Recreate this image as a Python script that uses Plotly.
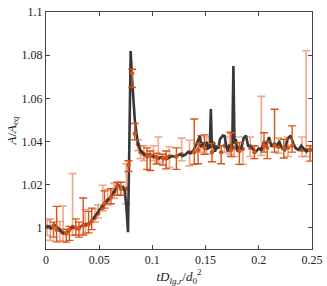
import plotly.graph_objects as go

# ---- black curve (simulation) ----
line_t = [0, 0.0025, 0.005, 0.0075, 0.01, 0.0125, 0.015, 0.0175, 0.02, 0.0225,
          0.025, 0.0275, 0.03, 0.0325, 0.035, 0.0375, 0.04, 0.0425, 0.045, 0.0475,
          0.05, 0.0525, 0.055, 0.0575, 0.06, 0.0625, 0.065, 0.0675, 0.07, 0.0725,
          0.074, 0.0755, 0.0771, 0.0784, 0.0796, 0.0808, 0.082, 0.0835, 0.085, 0.0865,
          0.0885, 0.091, 0.0935, 0.096, 0.0985, 0.101, 0.1035, 0.106, 0.1085, 0.111,
          0.1135, 0.116, 0.1185, 0.121, 0.1235, 0.126, 0.1285, 0.131, 0.1335, 0.136,
          0.1385, 0.141, 0.1435, 0.1446, 0.146, 0.148, 0.1495, 0.151, 0.1525, 0.154,
          0.155, 0.156, 0.1575, 0.159, 0.1605, 0.162, 0.1635, 0.1663, 0.168, 0.1695,
          0.171, 0.1725, 0.174, 0.1752, 0.1762, 0.1772, 0.1785, 0.18, 0.1815, 0.183,
          0.1845, 0.186, 0.188, 0.19, 0.1927, 0.195, 0.1975, 0.2, 0.2025, 0.205,
          0.2075, 0.2097, 0.212, 0.2145, 0.217, 0.2195, 0.222, 0.2245, 0.227, 0.23,
          0.2325, 0.235, 0.2375, 0.24, 0.2425, 0.245, 0.2483, 0.25]
line_a = [1.0000, 1.0006, 0.9996, 1.0014, 1.0004, 0.9988, 0.9977, 0.9973, 0.9976, 0.9990,
          1.0005, 0.9998, 0.9993, 1.0004, 1.0009, 1.0013, 1.0019, 1.0027, 1.0044, 1.0066,
          1.0083, 1.0097, 1.0108, 1.0126, 1.0137, 1.0152, 1.0172, 1.0203, 1.0180, 1.0188,
          1.0168, 1.0100, 0.9978, 1.0400, 1.0820, 1.0700, 1.0600, 1.0500, 1.0440, 1.0390,
          1.0360, 1.0345, 1.0335, 1.0340, 1.0330, 1.0333, 1.0325, 1.0322, 1.0328, 1.0320,
          1.0318, 1.0326, 1.0332, 1.0328, 1.0336, 1.0340, 1.0332, 1.0338, 1.0350, 1.0345,
          1.0356, 1.0380, 1.0410, 1.0427, 1.0375, 1.0395, 1.0360, 1.0398, 1.0368, 1.0372,
          1.0550, 1.0370, 1.0398, 1.0352, 1.0380, 1.0365, 1.0410, 1.0427, 1.0425, 1.0380,
          1.0353, 1.0385, 1.0360, 1.0400, 1.0750, 1.0390, 1.0410, 1.0353, 1.0370, 1.0362,
          1.0395, 1.0415, 1.0427, 1.0380, 1.0380, 1.0360, 1.0353, 1.0367, 1.0360, 1.0397,
          1.0385, 1.0420, 1.0375, 1.0390, 1.0383, 1.0397, 1.0367, 1.0360, 1.0410, 1.0427,
          1.0390, 1.0367, 1.0360, 1.0380, 1.0365, 1.0353, 1.0367, 1.0360]
assert len(line_t) == len(line_a)

# ---- experiment, dark error bars ----
dark_t = [0.007, 0.010, 0.019, 0.022, 0.028, 0.031, 0.035, 0.040, 0.043, 0.055,
          0.061, 0.067, 0.0705, 0.0775, 0.081, 0.0835, 0.095, 0.098, 0.104, 0.110,
          0.113, 0.1226, 0.1394, 0.143, 0.149, 0.156, 0.1647, 0.174, 0.1818, 0.196,
          0.205, 0.208, 0.2149, 0.2236, 0.2314, 0.2483]
dark_a = [1.0005, 0.9990, 0.9972, 0.9990, 1.0000, 0.9995, 1.0010, 1.0015, 1.0030, 1.0110,
          1.0140, 1.0190, 1.0180, 1.0290, 1.0717, 1.0437, 1.0330, 1.0335, 1.0325, 1.0320,
          1.0325, 1.0330, 1.0350, 1.0360, 1.0370, 1.0350, 1.0350, 1.0360, 1.0355, 1.0350,
          1.0380, 1.0370, 1.0380, 1.0370, 1.0380, 1.0360]
dark_up = [0.002, 0.0108, 0.002, 0.0015, 0.004, 0.003, 0.0127, 0.006, 0.006, 0.006,
           0.004, 0.002, 0.003, 0.002, 0.0018, 0.0046, 0.004, 0.002, 0.002, 0.002,
           0.003, 0.004, 0.0154, 0.003, 0.006, 0.004, 0.003, 0.008, 0.004, 0.003,
           0.006, 0.003, 0.0169, 0.004, 0.0092, 0.002]
dark_dn = [0.005, 0.0057, 0.004, 0.005, 0.0035, 0.004, 0.0045, 0.004, 0.004, 0.002,
           0.003, 0.004, 0.003, 0.003, 0.0067, 0.003, 0.006, 0.007, 0.003, 0.003,
           0.0053, 0.006, 0.0057, 0.0064, 0.003, 0.0045, 0.0054, 0.003, 0.0062, 0.003,
           0.003, 0.005, 0.003, 0.0047, 0.003, 0.0052]

# ---- experiment, light error bars ----
light_t = [0.001, 0.004, 0.013, 0.016, 0.025, 0.037, 0.046, 0.049, 0.0533, 0.058,
           0.064, 0.0755, 0.0865, 0.089, 0.092, 0.101, 0.1056, 0.116, 0.1276, 0.135,
           0.1455, 0.151, 0.168, 0.1725, 0.177, 0.185, 0.192, 0.2025, 0.2185, 0.2275,
           0.2406, 0.2446]
light_a = [1.0003, 1.0000, 0.9988, 0.9975, 1.0000, 1.0012, 1.0045, 1.0065, 1.0090, 1.0125,
           1.0165, 1.0180, 1.0387, 1.0350, 1.0340, 1.0330, 1.0322, 1.0330, 1.0340, 1.0350,
           1.0380, 1.0370, 1.0380, 1.0370, 1.0370, 1.0365, 1.0370, 1.0365, 1.0375, 1.0370,
           1.0360, 1.0360]
light_up = [0.003, 0.004, 0.004, 0.0125, 0.025, 0.007, 0.004, 0.004, 0.0106, 0.005,
            0.004, 0.0116, 0.002, 0.003, 0.004, 0.005, 0.0098, 0.0045, 0.0075, 0.0055,
            0.0047, 0.005, 0.004, 0.0075, 0.005, 0.0055, 0.005, 0.0244, 0.004, 0.005,
            0.006, 0.0461]
light_dn = [0.004, 0.006, 0.005, 0.004, 0.0036, 0.004, 0.002, 0.002, 0.0013, 0.002,
            0.003, 0.007, 0.003, 0.003, 0.003, 0.002, 0.002, 0.0052, 0.003, 0.0064,
            0.003, 0.003, 0.003, 0.003, 0.004, 0.0072, 0.004, 0.003, 0.003, 0.004,
            0.003, 0.003]

x_ticks = [0, 0.05, 0.1, 0.15, 0.2, 0.25]
x_ticklabels = ["0", "0.05", "0.1", "0.15", "0.2", "0.25"]
y_ticks = [1.0, 1.02, 1.04, 1.06, 1.08, 1.1]
y_ticklabels = ["1", "1.02", "1.04", "1.06", "1.08", "1.1"]

DARK = "#D95319"
LIGHT = "rgba(217,83,25,0.5)"
FONT = "Liberation Serif"

fig = go.Figure()

fig.add_trace(go.Scatter(
    x=light_t, y=light_a, mode="markers",
    marker=dict(size=4.5, color=DARK),
    error_y=dict(type="data", symmetric=False, array=light_up, arrayminus=light_dn,
                 color=LIGHT, thickness=1.6, width=4),
    showlegend=False))

fig.add_trace(go.Scatter(
    x=line_t, y=line_a, mode="lines",
    line=dict(color="#383838", width=2.6),
    showlegend=False))

fig.add_trace(go.Scatter(
    x=dark_t, y=dark_a, mode="markers",
    marker=dict(size=4.5, color=DARK),
    error_y=dict(type="data", symmetric=False, array=dark_up, arrayminus=dark_dn,
                 color=DARK, thickness=1.4, width=4),
    showlegend=False))

axis_common = dict(showline=True, linecolor="#444444", linewidth=1, mirror="ticks",
                   ticks="inside", ticklen=4, tickcolor="#444444", showgrid=False,
                   zeroline=False, ticklabeloverflow="allow",
                   tickfont=dict(family=FONT, size=12, color="#222222"))

fig.update_xaxes(range=[0, 0.2501], tickvals=x_ticks, ticktext=x_ticklabels,
                 title=dict(text="<i>tD</i><sub><i>lg,r</i></sub>/<i>d</i><sub>0</sub><sup>2</sup>",
                            font=dict(family=FONT, size=13, color="#222222"), standoff=4),
                 **axis_common)
fig.update_yaxes(range=[0.99, 1.1001], tickvals=y_ticks, ticktext=y_ticklabels,
                 title=dict(text="<i>A</i>/<i>A</i><sub><i>eq</i></sub>",
                            font=dict(family=FONT, size=13, color="#222222"), standoff=2),
                 **axis_common)

fig.update_layout(width=327, height=286, margin=dict(l=46, r=12, t=5, b=35),
                  paper_bgcolor="white", plot_bgcolor="white")

fig.write_html("out.html", config={"displayModeBar": False},
               post_script="document.body.style.margin='0';document.body.style.padding='0';document.body.style.overflow='hidden';")
